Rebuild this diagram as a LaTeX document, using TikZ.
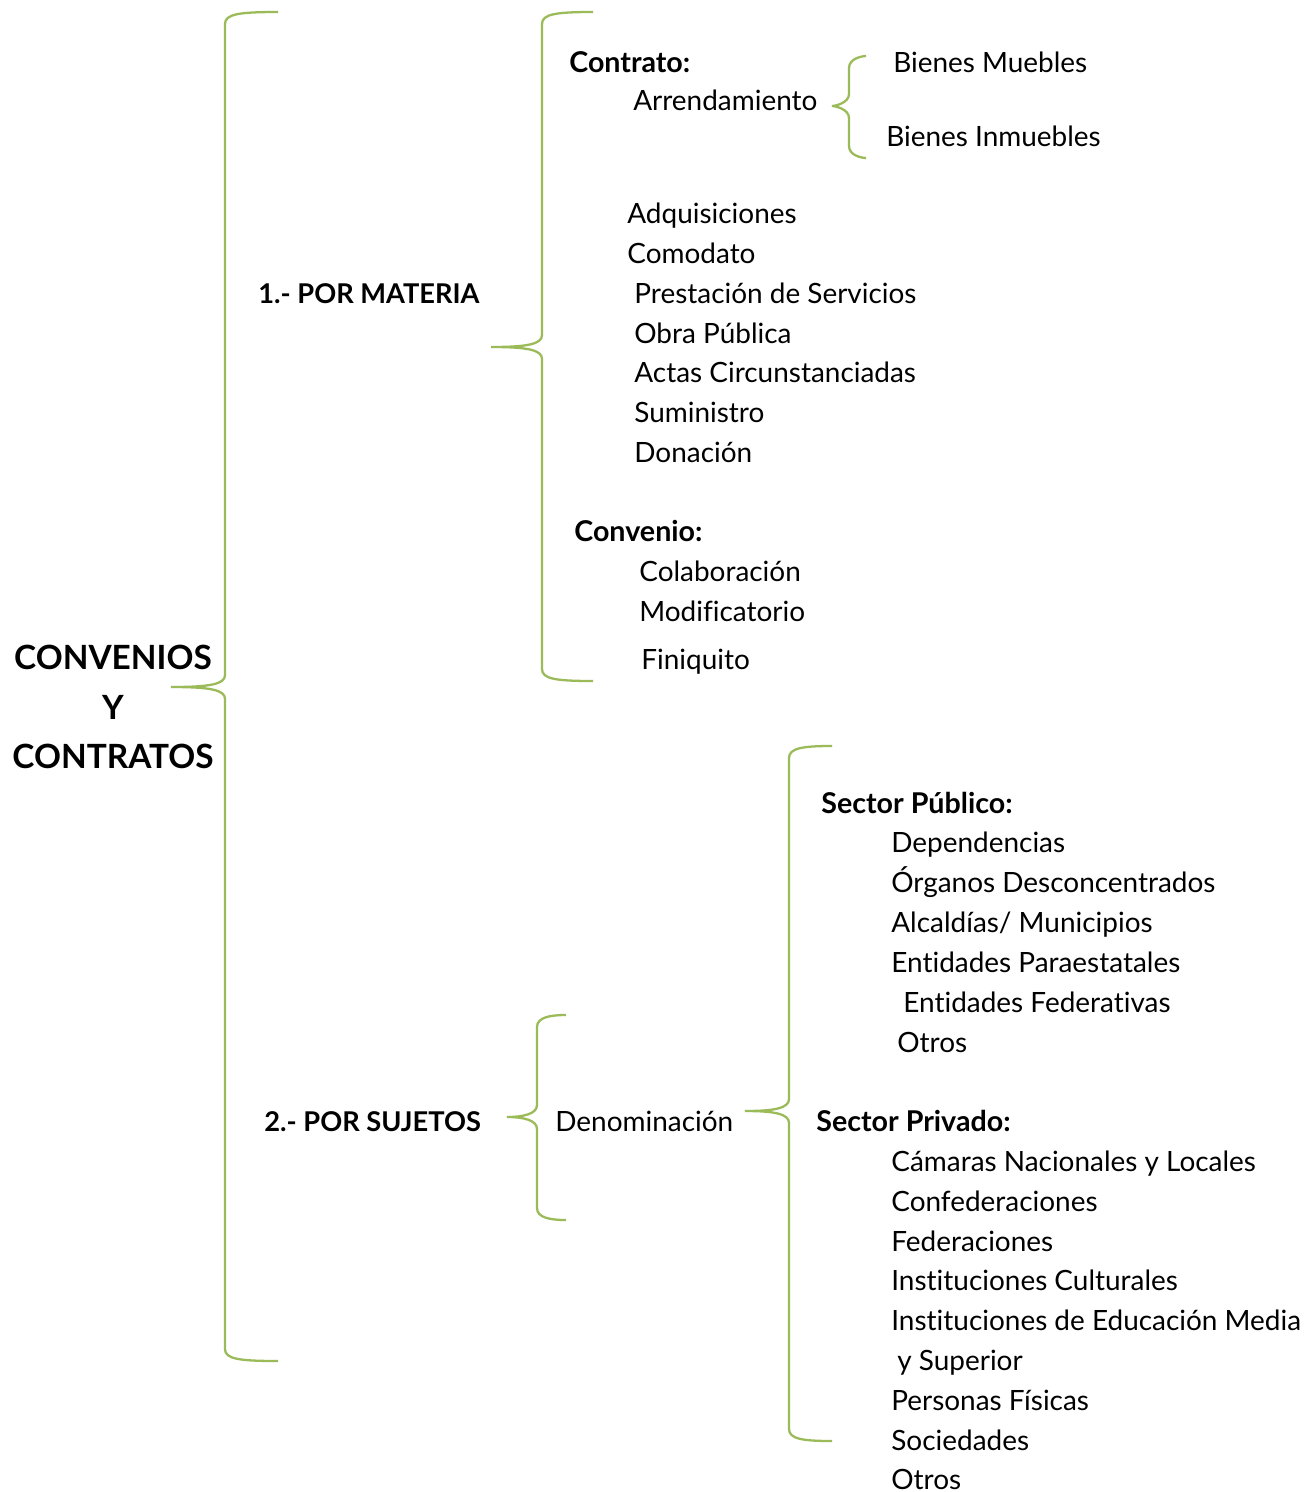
\documentclass[tikz,border=0pt]{standalone}
\usepackage{fontspec}
\setmainfont{Lato}[Ligatures=NoCommon]
\usetikzlibrary{positioning}
\definecolor{Olive}{HTML}{9BBB59}

% llave: x extremo, x vertical, x punta, y arriba, y punta, y abajo
\newcommand{\llave}[6]{%
  \draw[llave] (#1,#4) .. controls ({#2+14},#4) and (#2,{#4+2}) .. (#2,{#4+12})
    -- (#2,{#5-12}) .. controls (#2,{#5-3}) and ({#2-14},#5) .. (#3,#5)
    .. controls ({#2-14},#5) and (#2,{#5+3}) .. (#2,{#5+12})
    -- (#2,{#6-12}) .. controls (#2,{#6-2}) and ({#2+14},#6) .. (#1,#6);}

\begin{document}
\begin{tikzpicture}[x=0.02cm,y=-0.02cm,
  llave/.style={draw=Olive,line width=1.3pt},
  txt/.style={anchor=base west,inner sep=0pt,font=\fontsize{15.9}{18}\selectfont},
  tit/.style={anchor=base west,inner sep=0pt,font=\fontsize{16.3}{18}\selectfont\bfseries},
  secc/.style={anchor=base west,inner sep=0pt,font=\fontsize{15.5}{18}\selectfont\bfseries},
  raiz/.style={align=center,inner sep=0pt,font=\fontsize{19}{28}\selectfont\bfseries}
]
\useasboundingbox (0,0) rectangle (1306,1492);

\node[raiz] (raiz) at (113,707) {CONVENIOS\\Y\\CONTRATOS};

\node[secc] (materia) at (258,303) {1.- POR MATERIA};
\node[secc] (sujetos) at (264,1131) {2.- POR SUJETOS};

% por materia
\node[tit] (contrato) at (569,72) {Contrato:};
\node[txt] (arrend) at (633,110) {Arrendamiento};
\node[txt] (muebles) at (893,72) {Bienes Muebles};
\node[txt] (inmuebles) at (886,146) {Bienes Inmuebles};
\node[txt] (adq) at (627,223) {Adquisiciones};
\node[txt] (comodato) at (627,263) {Comodato};
\node[txt] (prest) at (634,303) {Prestación de Servicios};
\node[txt] (obra) at (634,343) {Obra Pública};
\node[txt] (actas) at (634,382) {Actas Circunstanciadas};
\node[txt] (sumin) at (634,422) {Suministro};
\node[txt] (donac) at (634,462) {Donación};
\node[tit] (convenio) at (574,541) {Convenio:};
\node[txt] (colab) at (639,581) {Colaboración};
\node[txt] (modif) at (639,621) {Modificatorio};
\node[txt] (finiq) at (641,669) {Finiquito};

% por sujetos
\node[txt] (denom) at (555,1131) {Denominación};
\node[tit] (publico) at (821,813) {Sector Público:};
\node[txt] (depend) at (891,852) {Dependencias};
\node[txt] (organos) at (891,892) {Órganos Desconcentrados};
\node[txt] (alcald) at (891,932) {Alcaldías/ Municipios};
\node[txt] (paraest) at (891,972) {Entidades Paraestatales};
\node[txt] (federat) at (903,1012) {Entidades Federativas};
\node[txt] (otros1) at (897,1052) {Otros};
\node[tit] (privado) at (816,1131) {Sector Privado:};
\node[txt] (camaras) at (891,1171) {Cámaras Nacionales y Locales};
\node[txt] (confed) at (891,1211) {Confederaciones};
\node[txt] (feder) at (891,1251) {Federaciones};
\node[txt] (cultur) at (891,1290) {Instituciones Culturales};
\node[txt] (educ) at (891,1330) {Instituciones de Educación Media};
\node[txt] (super) at (897,1370) {y Superior};
\node[txt] (fisicas) at (891,1410) {Personas Físicas};
\node[txt] (socied) at (891,1450) {Sociedades};
\node[txt] (otros2) at (891,1489) {Otros};

% llaves
\llave{278}{225}{171}{12}{687}{1361}
\llave{593}{542}{491}{12}{347}{681}
\llave{866}{849}{832}{56}{106}{158}
\llave{566}{537}{507}{1015}{1117}{1220}
\llave{832}{789}{745}{746}{1111}{1441}
\end{tikzpicture}
\end{document}
